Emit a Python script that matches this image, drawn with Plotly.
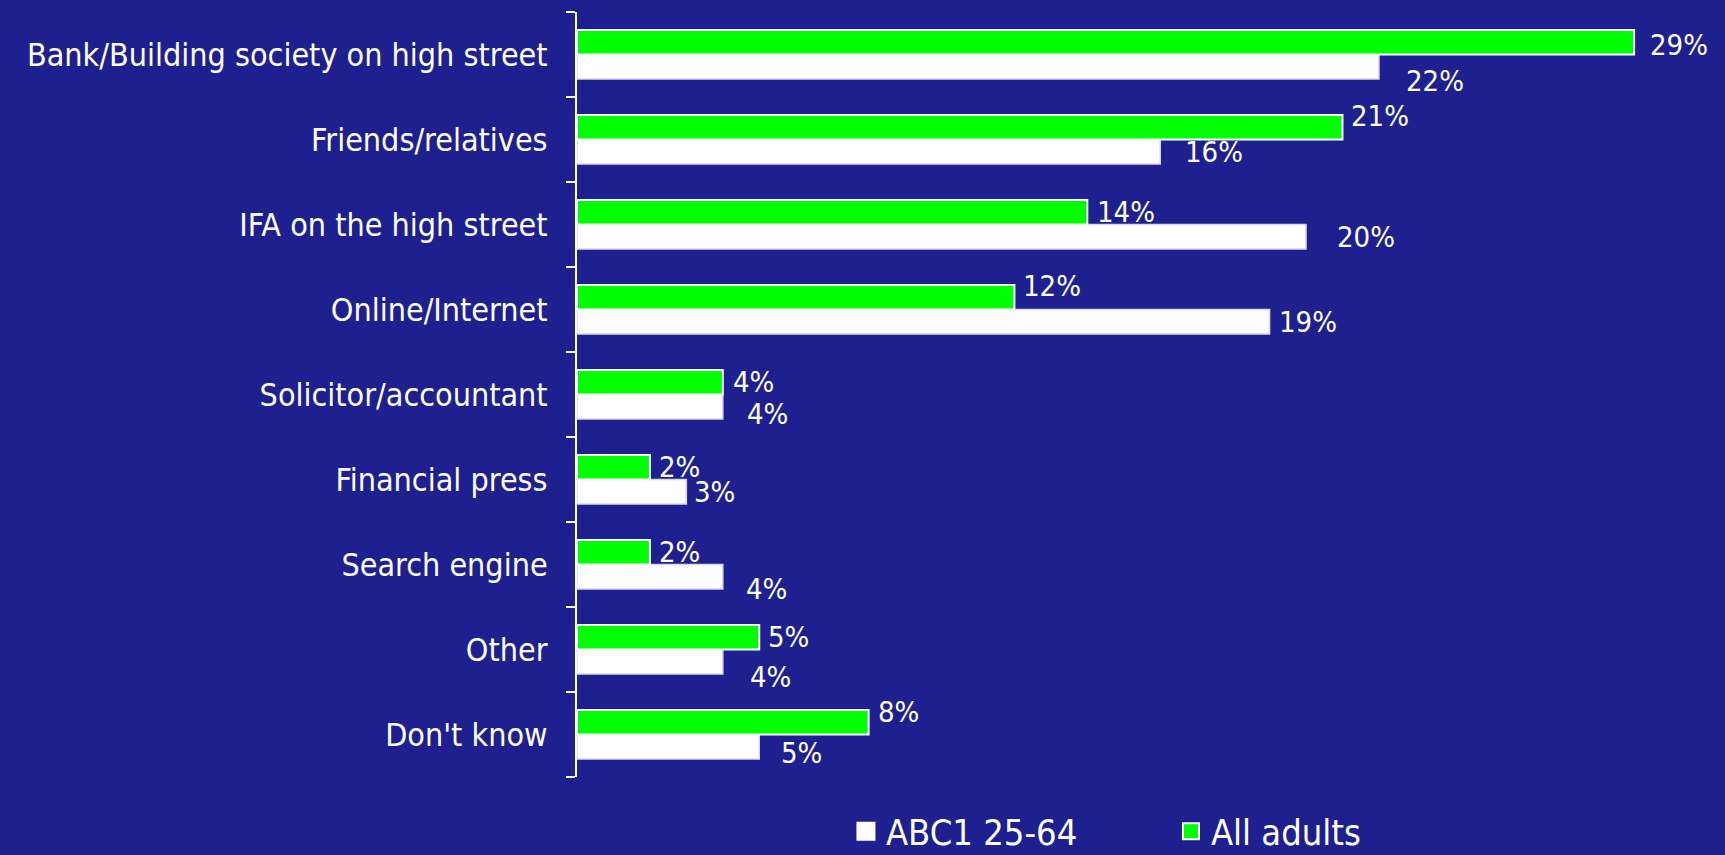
import plotly.graph_objects as go

categories = ["Bank/Building society on high street", "Friends/relatives", "IFA on the high street",
              "Online/Internet", "Solicitor/accountant", "Financial press", "Search engine",
              "Other", "Don't know"]
abc1 = [22, 16, 20, 19, 4, 3, 4, 4, 5]
all_adults = [29, 21, 14, 12, 4, 2, 2, 5, 8]
series_names = ["ABC1 25-64", "All adults"]

# pixel nudges of the value labels (style only), as placed in the original slide
green_dx = [14, 7, 8, 7, 8, 7, 7, 7, 7]
green_dy = [-3, 11, 0, 11, 0, 0, 0, 0, 10]
white_dx = [25, 23, 29, 7, 22, 6, 21, 25, 20]
white_dy = [-14, 0, 0, 0, -7, 0, -12, -15, -6]

FONT = "DejaVu Sans Condensed"
BG = "#1f2090"
WHITE = "#ffffff"
GREEN = "#00ff00"

L, R, T, B = 577, 18, 12, 78
H = 855
CAT_PX = (H - T - B) / len(categories)
BARGAP = 0.424
HALF = CAT_PX * (1 - BARGAP) / 4  # offset of each bar centre from category centre

fig = go.Figure()
fig.add_trace(go.Bar(
    y=categories, x=abc1, orientation="h", name=series_names[0], showlegend=False,
    marker=dict(color=WHITE, line=dict(color="#d8d8f0", width=1.5)),
))
fig.add_trace(go.Bar(
    y=categories, x=all_adults, orientation="h", name=series_names[1], showlegend=False,
    marker=dict(color=GREEN, line=dict(color=WHITE, width=2)),
))
# legend entries with larger square keys
for name, col, lw in zip(series_names, [WHITE, GREEN], [3, 2]):
    fig.add_trace(go.Scatter(
        x=[None], y=[None], mode="markers", name=name, showlegend=True,
        marker=dict(symbol="square", size=16, color=col, line=dict(color=WHITE, width=lw)),
    ))

annotations = []
for i, c in enumerate(categories):
    annotations.append(dict(
        x=all_adults[i], y=c, xref="x", yref="y", text=f"{all_adults[i]}%",
        showarrow=False, xanchor="left", yanchor="middle",
        xshift=green_dx[i], yshift=HALF + green_dy[i],
        font=dict(size=29, color="white", family=FONT)))
    annotations.append(dict(
        x=abc1[i], y=c, xref="x", yref="y", text=f"{abc1[i]}%",
        showarrow=False, xanchor="left", yanchor="middle",
        xshift=white_dx[i], yshift=-HALF + white_dy[i],
        font=dict(size=29, color="white", family=FONT)))

fig.update_layout(
    width=1725, height=H,
    paper_bgcolor=BG, plot_bgcolor=BG,
    margin=dict(l=L, r=R, t=T, b=B, autoexpand=False),
    barmode="group", bargap=BARGAP, bargroupgap=0,
    font=dict(family=FONT, color="white", size=32),
    showlegend=True,
    legend=dict(orientation="h", x=0.238, xanchor="left", y=-0.071, yanchor="middle",
                font=dict(size=36, color="white", family=FONT), bgcolor="rgba(0,0,0,0)",
                itemwidth=30, entrywidthmode="pixels", entrywidth=280, itemsizing="trace"),
    annotations=annotations,
)
fig.update_xaxes(range=[0, 31], visible=False, showgrid=False, zeroline=False)
fig.update_yaxes(categoryorder="array", categoryarray=categories[::-1],
                 showline=True, linecolor="white", linewidth=2,
                 ticks="outside", tickson="boundaries", ticklen=9, tickcolor="white", tickwidth=2,
                 showgrid=False, tickfont=dict(size=32, color="white", family=FONT),
                 ticklabelstandoff=21)

fig.write_html("out.html")
